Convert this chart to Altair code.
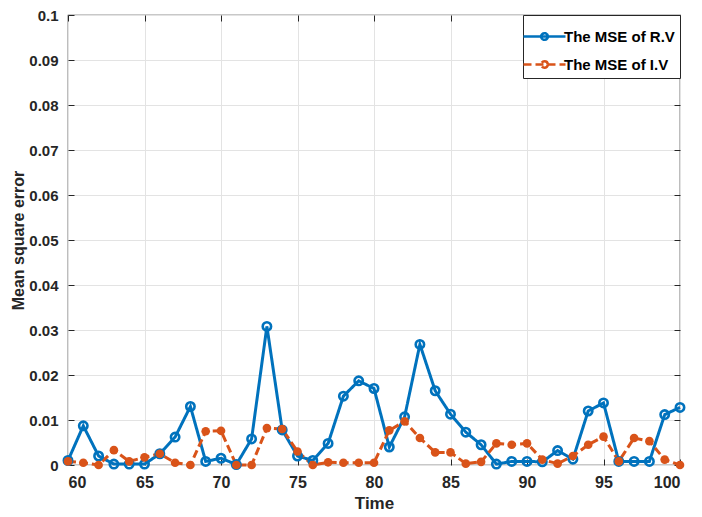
import altair as alt
import pandas as pd

time = list(range(60, 101))
mse_rv = [0.0010, 0.0087, 0.0020, 0.0002, 0.0002, 0.0002, 0.0025, 0.0062, 0.0130, 0.0008,
          0.0015, 0.0001, 0.0058, 0.0308, 0.0078, 0.0020, 0.0010, 0.0048, 0.0153, 0.0187,
          0.0170, 0.0040, 0.0107, 0.0268, 0.0165, 0.0113, 0.0073, 0.0045, 0.0002, 0.0008,
          0.0008, 0.0007, 0.0032, 0.0013, 0.0120, 0.0138, 0.0008, 0.0008, 0.0008, 0.0112,
          0.0128]
mse_iv = [0.0008, 0.0005, 0.0000, 0.0033, 0.0008, 0.0017, 0.0025, 0.0005, 0.0000, 0.0075,
          0.0076, 0.0000, 0.0000, 0.0082, 0.0080, 0.0030, 0.0000, 0.0006, 0.0005, 0.0005,
          0.0005, 0.0077, 0.0097, 0.0060, 0.0028, 0.0028, 0.0003, 0.0007, 0.0048, 0.0045,
          0.0048, 0.0012, 0.0003, 0.0020, 0.0045, 0.0063, 0.0008, 0.0060, 0.0053, 0.0012,
          0.0000]
series_names = ["The MSE of R.V", "The MSE of I.V"]
colors = ["#0072BD", "#D95319"]
x_ticks = list(range(60, 101, 5))
y_ticks = [i / 100 for i in range(0, 11)]

df = pd.DataFrame({
    "Time": time * 2,
    "MSE": mse_rv + mse_iv,
    "Series": [series_names[0]] * len(time) + [series_names[1]] * len(time),
})

FONT = "Liberation Sans"
INK = "#262626"
xs = alt.Scale(domain=[60, 100], nice=False)
ys = alt.Scale(domain=[0, 0.1], nice=False)

color_enc = alt.Color("Series:N", scale=alt.Scale(domain=series_names, range=colors),
                      legend=alt.Legend(
                          title=None, orient="top-right", offset=0,
                          strokeColor=INK, fillColor="white", padding=5,
                          labelFont=FONT, labelFontSize=15, labelFontWeight="bold",
                          labelColor="black", symbolStrokeWidth=2.6, symbolSize=900,
                          symbolType="M-1.4,0H1.4M0.22,0A0.22,0.22 0 1,1 -0.22,0A0.22,0.22 0 1,1 0.22,0",
                          rowPadding=3, labelOffset=3))
dash_enc = alt.StrokeDash("Series:N", scale=alt.Scale(domain=series_names, range=[[1, 0], [8, 4]]),
                          legend=None)

base = alt.Chart(df)

lines = base.mark_line(strokeWidth=3).encode(
    x=alt.X("Time:Q", scale=xs, axis=alt.Axis(
        title="Time", values=x_ticks, orient="bottom", offset=-6, tickSize=6,
        domain=False, grid=True, gridColor="#e3e3e3", labelPadding=9, tickColor=INK,
        labelFont=FONT, labelFontSize=16, labelFontWeight="bold", labelColor=INK,
        titleFont=FONT, titleFontSize=17, titleFontWeight="bold", titleColor=INK, titlePadding=5)),
    y=alt.Y("MSE:Q", scale=ys, axis=alt.Axis(
        title="Mean square error", values=y_ticks, orient="left", offset=-6,
        tickSize=6, domain=False, grid=True, gridColor="#e3e3e3", labelPadding=10, tickColor=INK,
        labelFont=FONT, labelFontSize=15, labelFontWeight="bold", labelColor=INK,
        labelExpr="datum.value == 0 ? '0' : format(datum.value, '.2~f')",
        titleFont=FONT, titleFontSize=16, titleFontWeight="bold", titleColor=INK, titlePadding=2)),
    color=color_enc,
    strokeDash=dash_enc,
)

pts_rv = alt.Chart(df[df["Series"] == series_names[0]]).mark_point(
    filled=False, size=70, strokeWidth=2.6, color=colors[0], opacity=1
).encode(x=alt.X("Time:Q", scale=xs, axis=None), y=alt.Y("MSE:Q", scale=ys, axis=None))

pts_iv = alt.Chart(df[df["Series"] == series_names[1]]).mark_point(
    filled=True, size=75, color=colors[1], opacity=1
).encode(x=alt.X("Time:Q", scale=xs, axis=None), y=alt.Y("MSE:Q", scale=ys, axis=None))

frame_axes = base.mark_point(opacity=0).encode(
    x=alt.X("Time:Q", scale=xs, axis=alt.Axis(
        title=None, labels=False, values=x_ticks, orient="top", offset=-6,
        tickSize=6, domain=False, grid=False, tickColor=INK)),
    y=alt.Y("MSE:Q", scale=ys, axis=alt.Axis(
        title=None, labels=False, values=y_ticks, orient="right",
        offset=-6, tickSize=6, domain=False, grid=False, tickColor=INK)),
)

chart = alt.layer(lines, frame_axes, pts_rv, pts_iv).resolve_axis(
    x="independent", y="independent"
).properties(
    width=612, height=450,
    padding={"left": 60, "top": 7, "right": 14, "bottom": 52},
    autosize=alt.AutoSizeParams(type="none"),
).configure_view(stroke=INK, strokeWidth=1.2)

chart.save("out.html", embed_options={"renderer": "svg", "actions": False})
